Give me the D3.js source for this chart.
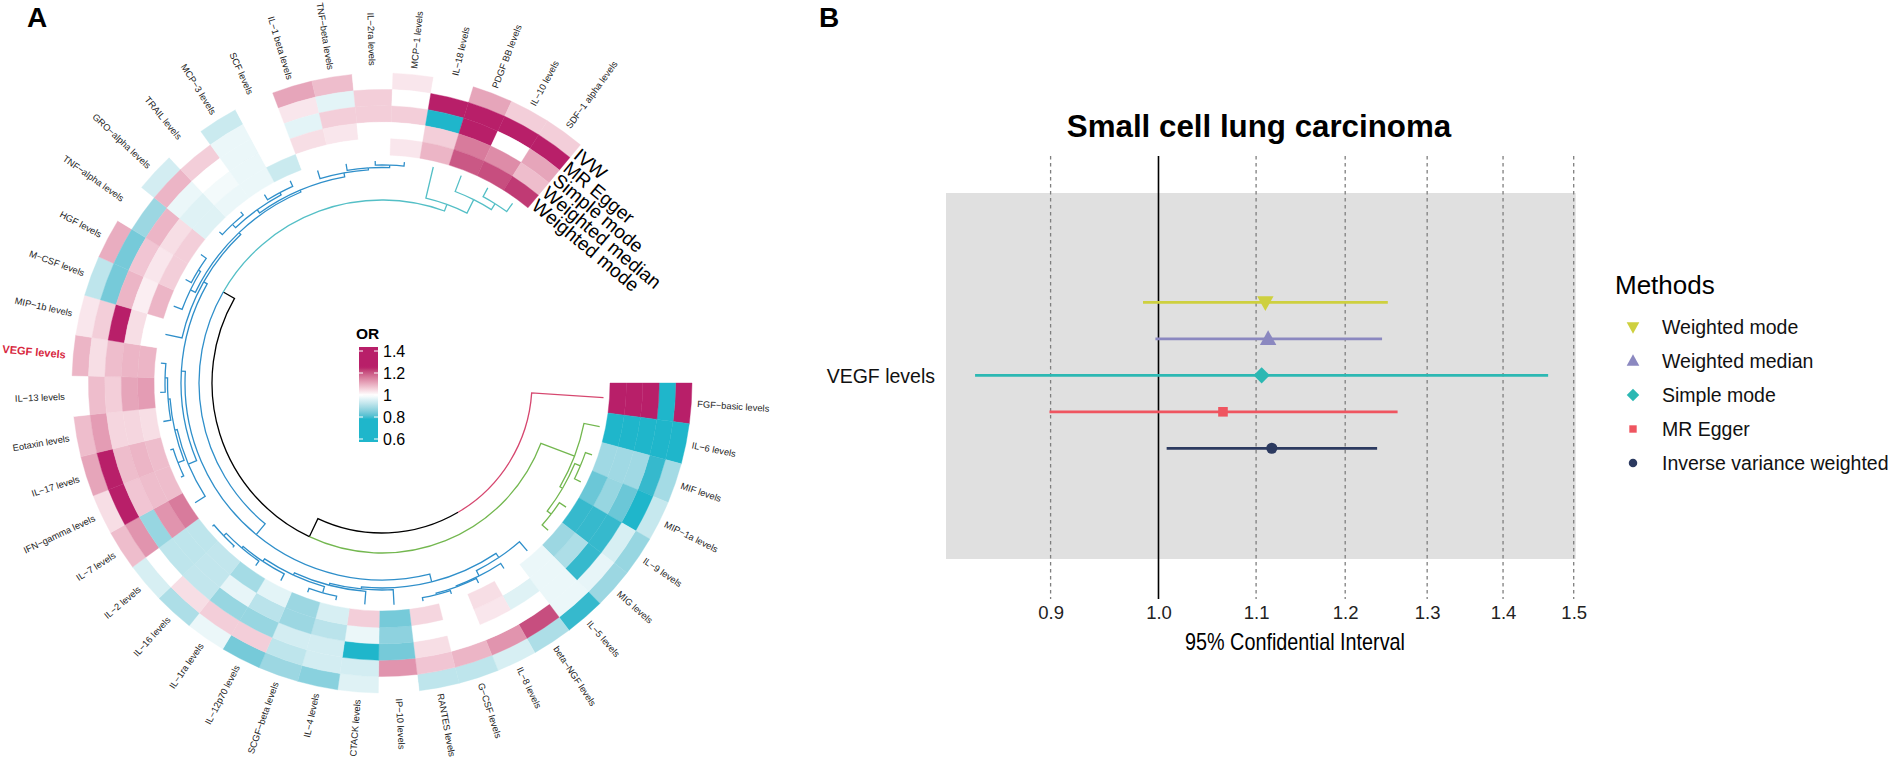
<!DOCTYPE html>
<html><head><meta charset="utf-8">
<script src="https://cdn.jsdelivr.net/npm/d3@7/dist/d3.min.js"></script>
<style>html,body{margin:0;padding:0;background:#fff}svg{display:block}text{font-family:"Liberation Sans",Arial,sans-serif}</style>
</head><body><svg id="c" width="1890" height="763"></svg>
<script>
const cytokines=["FGF−basic levels","IL−6 levels","MIF levels","MIP−1a levels","IL−9 levels","MIG levels","IL−5 levels","beta−NGF levels","IL−8 levels","G−CSF levels","RANTES levels","IP−10 levels","CTACK levels","IL−4 levels","SCGF−beta levels","IL−12p70 levels","IL−1ra levels","IL−16 levels","IL−2 levels","IL−7 levels","IFN−gamma levels","IL−17 levels","Eotaxin levels","IL−13 levels","VEGF levels","MIP−1b levels","M−CSF levels","HGF levels","TNF−alpha levels","GRO−alpha levels","TRAIL levels","MCP−3 levels","SCF levels","IL−1 beta levels","TNF−beta levels","IL−2ra levels","MCP−1 levels","IL−18 levels","PDGF BB levels","IL−10 levels","SDF−1 alpha levels"];
const trackNames=["IVW","MR Egger","Simple mode","Weighted median","Weighted mode"];
const orIVW=[1.3,.78,.89,.93,.875,.88,.79,.9,.95,.92,.92,1,.96,.86,.88,.84,.975,.9,.95,1.08,1.04,1.11,1.08,1,1.09,1.03,.92,1.1,1,.945,1,.935,1,1.11,1.08,1,1.03,1,1.11,1.06,1.06];
const orEgger=[.78,.78,.79,.78,.95,.97,.975,1.21,1.13,1.09,1.07,1.13,.945,.945,.92,1.06,1.06,1.04,1,1.13,1.3,1.3,1.12,1.08,1.04,1.06,.84,.84,.88,1.09,1.06,.975,1,1.03,.965,1.06,1,1.3,1.3,1.3,1.3];
const orSimple=[1.3,.78,.885,.83,.79,.79,.975,1,1,1,1.04,.84,.78,.945,.945,.875,.875,.925,.92,.875,1.07,1.08,1.05,1.06,1.08,1.3,1.09,1.07,1.09,.975,1,.975,1,.965,1.06,1.06,1.06,.78,1.3,1,1.11];
const orMedian=[1.3,.78,.885,.875,.79,.9,.975,.96,1.03,1,1,.865,.975,.915,.88,.915,.97,.925,.92,1.13,1.08,1.09,1.05,1.11,1.09,1.04,1.02,1.03,1.04,.96,.985,.975,1,1.04,1.03,1,1,1.06,1.16,1.14,1.08];
const orMode=[1.3,.78,.885,.83,.79,.88,.975,1,1.04,1,1.05,.84,1.06,.95,.88,.965,.89,.925,.92,1.16,1.08,1.08,1.04,1.12,1.09,1,1.09,1.06,1.06,.96,.975,.975,.935,1,1,1,1.03,1.09,1.2,1.21,1.23];
const orTracks=[orIVW,orEgger,orSimple,orMedian,orMode];
const legendTicks=[1.4,1.2,1,0.8,0.6];
// dendrogram: [height, childA, childB]; plain number = leaf index
const dendro=[72,0,[52,[16,1,[13,[7,2,3],[8,4,5]]],[39,
  [25,
    [17,[12,6,[6,7,[5,8,[3.5,9,10]]]],[15,11,[13,12,[10.5,[4,13,14],[7.5,15,[5.5,16,[2,17,18]]]]]]],
    [21,[12,19,[9.5,[7.5,22,[5,23,24]],[3,20,21]]],
        [17,25,[14.5,[9,26,[6.5,27,28]],[12.5,[8.5,[4,29,30],[6,31,32]],[8.5,33,[6.5,34,[4,35,36]]]]]]]],
  [32,37,[17,38,[10,39,40]]]]]];
const methods=["Weighted mode","Weighted median","Simple mode","MR Egger","Inverse variance weighted"];
const ciLow=[0.985,0.997,0.836,0.899,1.008];
const ciMid=[1.110,1.113,1.106,1.065,1.117];
const ciHigh=[1.251,1.244,1.463,1.263,1.238];
const xTicks=[0.9,1.0,1.1,1.2,1.3,1.4,1.5];
const panelSpan=[0.8126,1.503];

const svg=d3.select("#c");
const cx=382,cy=383,deg=Math.PI/180;
// ---- panel A
const gA=svg.append("g").attr("transform",`translate(${cx},${cy})`);
const theta=d3.scaleLinear().domain([0,cytokines.length]).range([0,309.8]);
const rBand=d3.scaleBand().domain(trackNames).range([310,228]);
const color=d3.scaleLinear().domain([0.78,1,1.25]).range(["#1fb6cb","#ffffff","#b81f69"]).interpolate(d3.interpolateLab).clamp(true);
const arc=d3.arc();
orTracks.forEach((vals,t)=>{
  const r0=rBand(trackNames[t]);
  gA.append("g").selectAll("path").data(vals).join("path")
    .attr("d",(v,i)=>arc({innerRadius:r0,outerRadius:r0+rBand.bandwidth(),startAngle:(theta(i)+90)*deg,endAngle:(theta(i+1)+90)*deg}))
    .attr("fill",v=>color(v)).attr("stroke",v=>color(v)).attr("stroke-width",0.4);
});
// labels
gA.append("g").selectAll("text").data(cytokines).join("text")
  .attr("transform",(d,i)=>{const a=theta(i+.5);const left=a>90&&a<270;
     return `rotate(${a}) translate(${left?317.5:316},0)`+(left?" rotate(180)":"");})
  .attr("text-anchor",(d,i)=>{const a=theta(i+.5);return a>90&&a<270?"end":"start";})
  .attr("dy","0.35em")
  .attr("font-size",d=>d.startsWith("VEGF")?11:9.3)
  .attr("font-weight",d=>d.startsWith("VEGF")?"bold":"normal")
  .attr("fill",d=>d.startsWith("VEGF")?"#d7263d":"#222")
  .text(d=>d);
// track names
const endA=theta.range()[1];
gA.append("g").selectAll("text").data(trackNames).join("text")
  .attr("transform",d=>{const r=rBand(d)+rBand.bandwidth()/2;
     return `translate(${r*Math.cos(endA*deg)},${r*Math.sin(endA*deg)}) rotate(${endA+90-360})`;})
  .attr("dx",2).attr("dy","0.35em").attr("font-size",19).attr("fill","#000").text(d=>d);
// dendrogram
const root=d3.hierarchy(dendro,d=>Array.isArray(d)?d.slice(1):null);
const rH=d3.scaleLinear().domain([0,72]).range([222,150]);
root.eachAfter(n=>{
  if(n.children){n.a=d3.mean(n.children,c=>c.a);n.h=n.data[0];}
  else{n.a=theta(n.data+.5);n.h=0;n.lo=n.hi=n.data;}
  if(n.children){n.lo=d3.min(n.children,c=>c.lo);n.hi=d3.max(n.children,c=>c.hi);}
});
function edgeColor(c){
  if(c.lo===0&&c.hi===0) return "#d6476f";
  if(c.hi<=5&&c.lo>=1) return "#73b74f";
  if(c.lo>=37) return "#54bfc6";
  if(c.lo>=6&&c.hi<=36) return "#2f8fca";
  return "#000";
}
const gD=gA.append("g").attr("fill","none").attr("stroke-width",1.3);
root.descendants().filter(n=>n.children).forEach(n=>{
  n.children.forEach(c=>{
    const p=d3.path(),r=rH(n.h),a0=n.a*deg,a1=c.a*deg;
    p.moveTo(r*Math.cos(a0),r*Math.sin(a0));
    p.arc(0,0,r,a0,a1,a1<a0);
    const r2=rH(c.h);
    p.lineTo(r2*Math.cos(a1),r2*Math.sin(a1));
    gD.append("path").attr("d",p.toString()).attr("stroke",edgeColor(c));
  });
});
// colour legend
const legY=d3.scaleLinear().domain([0.6,1.4]).range([439,351]);
const defs=svg.append("defs");
const lg=defs.append("linearGradient").attr("id","orgrad").attr("x1",0).attr("x2",0).attr("y1",0).attr("y2",1);
const lgTop=347,lgBot=442;
d3.range(0,1.001,0.02).forEach(t=>{
  lg.append("stop").attr("offset",t).attr("stop-color",color(legY.invert(lgTop+t*(lgBot-lgTop))));
});
svg.append("rect").attr("x",359).attr("y",lgTop).attr("width",19).attr("height",lgBot-lgTop).attr("fill","url(#orgrad)");
svg.append("g").selectAll("path").data(legendTicks).join("path")
  .attr("d",d=>`M359,${legY(d)}h4M374,${legY(d)}h4`).attr("stroke","#fff").attr("stroke-width",1);
svg.append("g").attr("transform","translate(378,0)")
  .call(d3.axisRight(legY).tickValues(legendTicks).tickSize(0).tickPadding(5).tickFormat(d=>d===1?"1":d3.format(".1f")(d)))
  .call(g=>g.select(".domain").remove())
  .call(g=>g.selectAll("text").attr("font-size",16).attr("font-family",'"Liberation Sans"').attr("fill","#000"));
svg.append("text").attr("x",356).attr("y",339).attr("font-size",15.5).attr("font-weight","bold").text("OR");
svg.append("text").attr("x",27).attr("y",27).attr("font-size",28).attr("font-weight","bold").text("A");
svg.append("text").attr("x",819).attr("y",27).attr("font-size",28).attr("font-weight","bold").text("B");
// ---- panel B
const x=d3.scaleLog().domain([0.9,1.5]).range([1050.6,1573.7]);
const y=d3.scalePoint().domain(methods).range([302.3,448.3]);
const rows=methods.map((m,i)=>({m,lo:ciLow[i],mid:ciMid[i],hi:ciHigh[i]}));
const mColor=d3.scaleOrdinal().domain(methods).range(["#ced03f","#8b88c0","#2cb8b3","#ef5560","#2c3a60"]);
const triDown=(s)=>{const p=d3.path(),k=Math.sqrt(s/1.3);p.moveTo(-k,-k*.75);p.lineTo(k,-k*.75);p.lineTo(0,k*1.05);p.closePath();return p.toString();};
const triUp=(s)=>{const p=d3.path(),k=Math.sqrt(s/1.3);p.moveTo(-k,k*.75);p.lineTo(k,k*.75);p.lineTo(0,-k*1.05);p.closePath();return p.toString();};
const mark={"Weighted mode":triDown,"Weighted median":triUp,
  "Simple mode":s=>d3.symbol(d3.symbolDiamond2,s*1.9)(),
  "MR Egger":s=>d3.symbol(d3.symbolSquare,s*1.05)(),
  "Inverse variance weighted":s=>d3.symbol(d3.symbolCircle,s*1.1)()};
svg.append("rect").attr("x",x(panelSpan[0])).attr("width",x(panelSpan[1])-x(panelSpan[0])).attr("y",193).attr("height",366).attr("fill","#e0e0e0");
svg.append("g").selectAll("line").data(xTicks).join("line")
  .attr("x1",d=>x(d)).attr("x2",d=>x(d)).attr("y1",156).attr("y2",599)
  .attr("stroke",d=>d===1?"#000":"#7f7f7f").attr("stroke-width",d=>d===1?1.6:1.3)
  .attr("stroke-dasharray",d=>d===1?null:"3.5,3.5");
svg.append("g").selectAll("line").data(rows).join("line")
  .attr("x1",d=>x(d.lo)).attr("x2",d=>x(d.hi)).attr("y1",d=>y(d.m)).attr("y2",d=>y(d.m))
  .attr("stroke",d=>mColor(d.m)).attr("stroke-width",2.8);
svg.append("g").selectAll("path").data(rows).join("path")
  .attr("transform",d=>`translate(${x(d.mid)},${y(d.m)})`)
  .attr("d",d=>mark[d.m](88)).attr("fill",d=>mColor(d.m));
svg.append("g").attr("transform","translate(0,601)")
  .call(d3.axisBottom(x).tickValues(xTicks).tickSize(0).tickPadding(5).tickFormat(d3.format(".1f")))
  .call(g=>g.select(".domain").remove())
  .call(g=>g.selectAll("text").attr("font-size",18.5).attr("font-family",'"Liberation Sans"').attr("fill","#222"));
svg.append("text").attr("x",1295).attr("y",650).attr("text-anchor","middle").attr("font-size",24).attr("textLength",220).attr("lengthAdjust","spacingAndGlyphs").text("95% Confidential Interval");
svg.append("text").attr("x",1259).attr("y",137).attr("text-anchor","middle").attr("font-size",31.3).attr("font-weight","bold").text("Small cell lung carcinoma");
svg.append("text").attr("x",935).attr("y",375.7).attr("dy","0.35em").attr("text-anchor","end").attr("font-size",19.5).attr("fill","#111").text("VEGF levels");
svg.append("text").attr("x",1615).attr("y",294).attr("font-size",26).text("Methods");
const legRow=d3.scalePoint().domain(methods).range([327,463]);
const lgB=svg.append("g").selectAll("g").data(methods).join("g").attr("transform",d=>`translate(0,${legRow(d)})`);
lgB.append("path").attr("transform","translate(1633,0)").attr("d",d=>mark[d](52)).attr("fill",d=>mColor(d));
lgB.append("text").attr("x",1662).attr("dy","0.35em").attr("font-size",19.5).attr("fill","#111").text(d=>d);
</script></body></html>
